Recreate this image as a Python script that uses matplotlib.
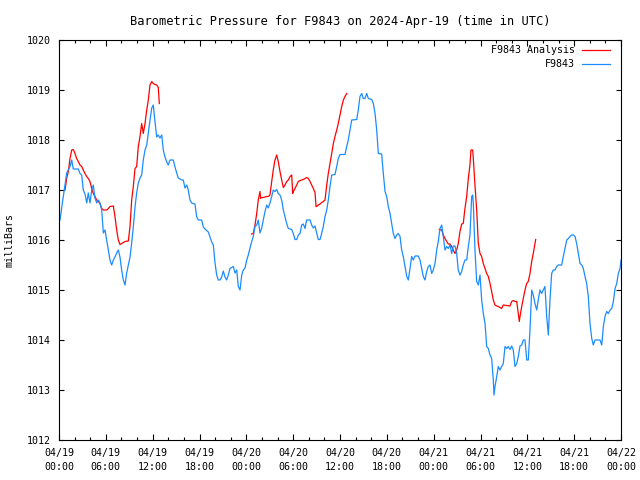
import matplotlib
matplotlib.use("Agg")
import matplotlib.pyplot as plt
import matplotlib.dates as mdates
import numpy as np
from datetime import datetime, timedelta

plt.rcParams['font.family'] = ['DejaVu Sans Mono']
plt.rcParams['font.size'] = 7.2

start = datetime(2024, 4, 19)

# hours since 2024-04-19 00:00 UTC, pressure in mb
obs_h = [0.13, 0.55, 0.99, 1.41, 1.63, 1.83, 2.47, 2.69, 2.91, 3.11, 3.33, 3.55, 3.75, 3.97,
         4.19, 4.39, 4.61, 4.83, 5.03, 5.25, 5.47, 5.68, 5.89, 6.11, 6.32, 6.53, 6.75, 6.96,
         7.17, 7.39, 7.60, 7.81, 8.03, 8.24, 8.46, 8.67, 8.88, 9.10, 9.31, 9.52, 9.74, 9.95,
         10.16, 10.38, 10.59, 10.80, 11.02, 11.24, 11.44, 11.66, 11.88, 12.08, 12.30, 12.52,
         12.72, 12.94, 13.16, 13.36, 13.58, 13.80, 14.00, 14.22, 14.64, 14.86, 15.08, 15.28,
         15.72, 15.92, 16.14, 16.36, 16.56, 16.78, 17.00, 17.42, 17.64, 17.85, 18.28, 18.49,
         18.70, 19.13, 19.35, 19.56, 19.77, 19.99, 20.20, 20.41, 20.63, 20.84, 21.05, 21.27,
         21.48, 21.69, 21.91, 22.33, 22.55, 22.77, 22.97, 23.19, 23.41, 23.61, 23.83, 24.05,
         24.25, 24.47, 24.69, 24.89, 25.11, 25.33, 25.53, 25.75, 25.97, 26.17, 26.39, 26.61,
         26.81, 27.03, 27.25, 27.45, 27.67, 27.89, 28.09, 28.31, 28.53, 28.74, 28.95, 29.17,
         29.38, 29.81, 30.02, 30.23, 30.45, 30.66, 30.88, 31.09, 31.30, 31.52, 31.73, 32.16,
         32.37, 32.58, 32.80, 33.01, 33.22, 33.44, 33.66, 33.86, 34.08, 34.30, 34.50, 34.72,
         34.94, 35.36, 35.58, 35.78, 36.00, 36.64, 36.86, 37.06, 37.28, 37.50, 38.14, 38.34,
         38.56, 38.78, 38.98, 39.20, 39.42, 39.63, 40.06, 40.27, 40.49, 40.70, 40.91, 41.34,
         41.55, 41.77, 41.98, 42.19, 42.41, 42.62, 42.83, 43.05, 43.26, 43.47, 43.69, 43.90,
         44.11, 44.33, 44.55, 44.75, 44.97, 45.18, 45.39, 45.61, 46.03, 46.25, 46.47, 46.67,
         46.89, 47.11, 47.31, 47.53, 47.75, 47.95, 48.17, 48.39, 48.59, 48.81, 49.03, 49.23,
         49.45, 49.67, 49.87, 50.09, 50.31, 50.51, 50.73, 50.95, 51.15, 51.37, 51.59, 51.79,
         52.01, 52.23, 52.44, 52.65, 52.87, 53.00, 53.08, 53.29, 53.51, 53.72, 53.94, 54.15,
         54.36, 54.58, 54.79, 55.00, 55.22, 55.43, 55.64, 55.73, 55.86, 56.08, 56.28, 56.50,
         56.71, 56.92, 57.14, 57.36, 57.56, 57.78, 58.00, 58.20, 58.42, 58.64, 58.84, 59.06,
         59.28, 59.48, 59.70, 59.92, 60.12, 60.34, 60.56, 60.76, 60.98, 61.20, 61.40, 61.62,
         61.84, 62.04, 62.26, 62.48, 62.69, 62.90, 63.12, 63.32, 63.54, 63.76, 63.96, 64.40,
         64.61, 64.83, 65.05, 65.25, 65.47, 65.68, 65.89, 66.11, 66.32, 66.53, 66.75, 66.97,
         67.17, 67.39, 67.60, 67.81, 68.03, 68.25, 68.45, 68.67, 69.31, 69.53, 69.74, 69.95,
         70.17, 70.38, 70.60, 70.81, 71.02, 71.24, 71.45, 71.66, 71.88, 72.00]
obs_p = [1016.40, 1016.87, 1017.34, 1017.47, 1017.60, 1017.42, 1017.42, 1017.33, 1017.30, 1017.00,
         1016.92, 1016.74, 1016.94, 1016.74, 1017.00, 1017.10, 1016.84, 1016.74, 1016.80, 1016.74,
         1016.60, 1016.14, 1016.20, 1016.00, 1015.80, 1015.60, 1015.50, 1015.60, 1015.66, 1015.74,
         1015.80, 1015.66, 1015.40, 1015.20, 1015.10, 1015.34, 1015.50, 1015.66, 1015.94, 1016.26,
         1016.66, 1016.94, 1017.14, 1017.24, 1017.30, 1017.60, 1017.80, 1017.90, 1018.14, 1018.40,
         1018.64, 1018.70, 1018.36, 1018.06, 1018.10, 1018.04, 1018.10, 1017.80, 1017.66, 1017.56,
         1017.50, 1017.60, 1017.60, 1017.46, 1017.34, 1017.24, 1017.20, 1017.20, 1017.04, 1017.10,
         1017.00, 1016.80, 1016.74, 1016.72, 1016.46, 1016.40, 1016.40, 1016.26, 1016.22, 1016.16,
         1016.06, 1015.96, 1015.90, 1015.54, 1015.30, 1015.20, 1015.20, 1015.26, 1015.38, 1015.26,
         1015.20, 1015.30, 1015.43, 1015.47, 1015.34, 1015.40, 1015.07, 1015.00, 1015.30, 1015.40,
         1015.44, 1015.60, 1015.70, 1015.84, 1015.97, 1016.07, 1016.27, 1016.30, 1016.40, 1016.14,
         1016.24, 1016.40, 1016.57, 1016.70, 1016.64, 1016.74, 1016.87, 1017.00, 1016.97, 1017.01,
         1016.93, 1016.90, 1016.80, 1016.60, 1016.47, 1016.33, 1016.23, 1016.21, 1016.13, 1016.01,
         1016.01, 1016.10, 1016.13, 1016.30, 1016.32, 1016.23, 1016.40, 1016.40, 1016.30, 1016.24,
         1016.28, 1016.14, 1016.01, 1016.01, 1016.14, 1016.27, 1016.47, 1016.60, 1016.80, 1017.07,
         1017.30, 1017.31, 1017.47, 1017.63, 1017.71, 1017.71, 1017.87, 1018.00, 1018.20, 1018.40,
         1018.41, 1018.60, 1018.87, 1018.93, 1018.83, 1018.83, 1018.93, 1018.83, 1018.81, 1018.73,
         1018.53, 1018.20, 1017.73, 1017.72, 1017.33, 1016.97, 1016.87, 1016.67, 1016.53, 1016.33,
         1016.13, 1016.03, 1016.10, 1016.13, 1016.07, 1015.80, 1015.67, 1015.47, 1015.27, 1015.20,
         1015.43, 1015.67, 1015.60, 1015.68, 1015.68, 1015.60, 1015.43, 1015.27, 1015.20, 1015.37,
         1015.47, 1015.50, 1015.33, 1015.40, 1015.53, 1015.80, 1015.97, 1016.23, 1016.30, 1016.07,
         1015.80, 1015.87, 1015.83, 1015.90, 1015.73, 1015.88, 1015.88, 1015.73, 1015.40, 1015.30,
         1015.37, 1015.50, 1015.60, 1015.60, 1015.87, 1016.10, 1016.87, 1016.90, 1016.73, 1015.80,
         1015.17, 1015.10, 1015.30, 1014.80, 1014.53, 1014.33, 1013.87, 1013.83, 1013.70, 1013.63,
         1013.20, 1012.90, 1013.07, 1013.27, 1013.47, 1013.40, 1013.47, 1013.53, 1013.87, 1013.83,
         1013.87, 1013.81, 1013.88, 1013.80, 1013.47, 1013.53, 1013.67, 1013.88, 1013.90, 1014.00,
         1014.00, 1013.60, 1013.60, 1014.20, 1015.00, 1014.90, 1014.73, 1014.60, 1014.80, 1015.00,
         1014.93, 1015.00, 1015.07, 1014.47, 1014.10, 1014.80, 1015.33, 1015.40, 1015.40, 1015.47,
         1015.50, 1015.50, 1015.67, 1015.83, 1016.00, 1016.03, 1016.07, 1016.10, 1016.10, 1016.07,
         1015.93, 1015.73, 1015.53, 1015.50, 1015.43, 1015.27, 1015.13, 1014.87, 1014.33, 1014.03,
         1013.90, 1014.00, 1014.00, 1013.90, 1014.27, 1014.47, 1014.57, 1014.53, 1014.60, 1014.63,
         1014.77, 1015.03, 1015.13, 1015.33, 1015.43, 1015.60]

# analysis runs (three separate pieces)
an1_h = [0.77, 0.99, 1.20, 1.41, 1.63, 1.83, 2.05, 2.26, 2.47, 2.69, 2.91, 3.11, 3.33, 3.55,
         3.75, 3.97, 4.19, 4.39, 4.61, 4.83, 5.03, 5.25, 5.47, 5.68, 6.11, 6.32, 6.53, 6.96,
         7.17, 7.39, 7.60, 7.81, 8.03, 8.46, 8.88, 9.10, 9.31, 9.52, 9.74, 9.95, 10.16, 10.38,
         10.59, 10.80, 11.02, 11.24, 11.44, 11.66, 11.88, 12.08, 12.30, 12.52, 12.72, 12.85]
an1_p = [1017.00, 1017.24, 1017.37, 1017.63, 1017.80, 1017.81, 1017.73, 1017.63, 1017.57, 1017.50,
         1017.47, 1017.40, 1017.33, 1017.27, 1017.23, 1017.17, 1017.03, 1016.93, 1016.87, 1016.80,
         1016.77, 1016.73, 1016.63, 1016.60, 1016.60, 1016.63, 1016.67, 1016.68, 1016.47, 1016.20,
         1016.00, 1015.91, 1015.93, 1015.97, 1015.98, 1016.27, 1016.80, 1017.07, 1017.43, 1017.47,
         1017.87, 1018.07, 1018.33, 1018.13, 1018.33, 1018.60, 1018.80, 1019.10, 1019.17, 1019.13,
         1019.11, 1019.10, 1019.05, 1018.73]

an2_h = [24.69, 24.89, 25.11, 25.33, 25.53, 25.75, 25.83, 25.97, 26.17, 26.61, 26.81, 27.03,
         27.25, 27.45, 27.67, 27.89, 28.09, 28.31, 28.53, 28.74, 28.95, 29.17, 29.38, 29.60,
         29.81, 29.94, 30.02, 30.23, 30.45, 30.66, 30.88, 31.30, 31.73, 31.95, 32.16, 32.37,
         32.58, 32.80, 32.93, 33.01, 33.22, 33.44, 33.66, 33.86, 34.08, 34.30, 34.50, 34.72,
         34.94, 35.15, 35.36, 35.58, 35.78, 36.00, 36.22, 36.43, 36.64, 36.86]
an2_p = [1016.12, 1016.13, 1016.30, 1016.53, 1016.80, 1016.97, 1016.83, 1016.85, 1016.85, 1016.87,
         1016.87, 1016.90, 1017.17, 1017.40, 1017.60, 1017.70, 1017.57, 1017.37, 1017.20, 1017.05,
         1017.10, 1017.17, 1017.20, 1017.27, 1017.30, 1016.93, 1016.97, 1017.03, 1017.10, 1017.17,
         1017.19, 1017.21, 1017.25, 1017.23, 1017.17, 1017.10, 1017.03, 1016.95, 1016.67, 1016.67,
         1016.70, 1016.72, 1016.75, 1016.77, 1016.80, 1017.10, 1017.33, 1017.53, 1017.73, 1017.93,
         1018.07, 1018.20, 1018.33, 1018.50, 1018.67, 1018.80, 1018.87, 1018.93]

an3_h = [48.72, 49.03, 49.23, 49.45, 49.67, 49.87, 50.09, 50.31, 50.51, 50.73, 50.95, 51.15,
         51.37, 51.59, 51.79, 52.01, 52.23, 52.44, 52.65, 52.78, 53.00, 53.08, 53.29, 53.51,
         53.72, 53.94, 54.15, 54.36, 54.58, 54.79, 55.00, 55.22, 55.43, 55.64, 55.86, 56.08,
         56.28, 56.50, 56.71, 56.92, 57.36, 57.78, 58.00, 58.20, 58.42, 58.64, 58.84, 58.97,
         59.06, 59.28, 59.48, 59.70, 59.92, 60.12, 60.34, 60.56, 60.76, 60.98, 61.07]
an3_p = [1016.21, 1016.20, 1016.10, 1016.03, 1015.97, 1015.92, 1015.92, 1015.87, 1015.80, 1015.73,
         1015.80, 1015.93, 1016.17, 1016.32, 1016.33, 1016.63, 1016.87, 1017.23, 1017.50, 1017.80,
         1017.80, 1017.63, 1017.10, 1016.60, 1015.93, 1015.73, 1015.67, 1015.53, 1015.43, 1015.33,
         1015.27, 1015.13, 1014.97, 1014.80, 1014.70, 1014.68, 1014.67, 1014.65, 1014.63, 1014.70,
         1014.69, 1014.68, 1014.77, 1014.79, 1014.77, 1014.77, 1014.53, 1014.37, 1014.47, 1014.67,
         1014.83, 1015.00, 1015.13, 1015.17, 1015.33, 1015.57, 1015.73, 1015.93, 1016.01]


def to_time(hours):
    return [start + timedelta(hours=h) for h in hours]


fig = plt.figure(figsize=(6.4, 4.8), dpi=100)
ax = fig.add_axes([59 / 640, 40 / 480, 562 / 640, 400 / 480])

red = '#ff0000'
blue = '#1a8cff'
for hh, pp in [(an1_h, an1_p), (an2_h, an2_p), (an3_h, an3_p)]:
    ax.plot(to_time(hh), pp, color=red, lw=0.9)
ax.plot(to_time(obs_h), obs_p, color=blue, lw=0.9)

ax.set_xlim(start, start + timedelta(hours=72))
ax.set_ylim(1012, 1020)
ax.set_yticks(np.arange(1012, 1021, 1))

ax.xaxis.set_major_locator(mdates.HourLocator(byhour=range(0, 24, 6)))
ax.xaxis.set_minor_locator(mdates.HourLocator(byhour=range(0, 24, 2)))
ax.xaxis.set_major_formatter(mdates.DateFormatter('%m/%d\n%H:%M'))

ax.tick_params(which='both', direction='in', top=True, right=True, width=0.8, colors='black')
ax.tick_params(axis='x', which='major', length=4.5, pad=6)
ax.tick_params(axis='x', which='minor', length=2.5)
ax.tick_params(axis='y', which='major', length=3.5, pad=6)
for lab in ax.get_xticklabels():
    lab.set_linespacing(1.5)
for s in ax.spines.values():
    s.set_linewidth(0.8)

ax.set_ylabel('milliBars', labelpad=9)
ax.set_title('Barometric Pressure for F9843 on 2024-Apr-19 (time in UTC)', pad=11)

# legend in gnuplot style (text right-aligned, sample on the right)
ax.text(0.918, 0.975, 'F9843 Analysis', transform=ax.transAxes, ha='right', va='center')
ax.plot([0.931, 0.980], [0.975, 0.975], transform=ax.transAxes, color=red, lw=0.9)
ax.text(0.918, 0.94, 'F9843', transform=ax.transAxes, ha='right', va='center')
ax.plot([0.931, 0.980], [0.94, 0.94], transform=ax.transAxes, color=blue, lw=0.9)

fig.savefig('out.png', dpi=100)
